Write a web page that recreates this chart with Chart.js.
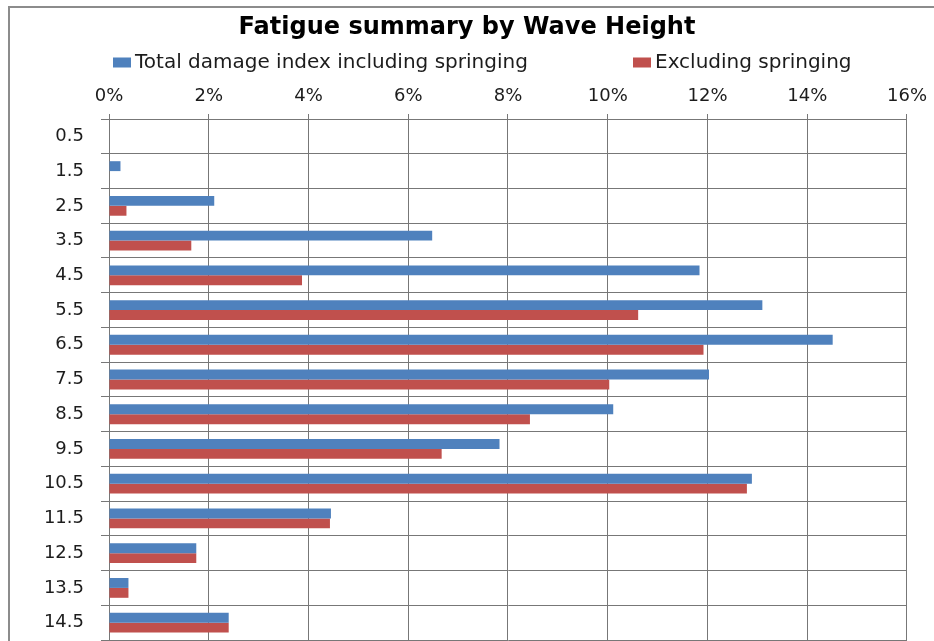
<!DOCTYPE html>
<html>
<head>
<meta charset="utf-8">
<script src="https://cdn.jsdelivr.net/npm/chart.js@4/dist/chart.umd.min.js"></script>
<style>
  html, body { margin: 0; padding: 0; background: #fff; overflow: hidden; }
  #wrap { position: relative; width: 934px; height: 641px; }
</style>
</head>
<body>
<div id="wrap"><canvas id="c" width="934" height="641"></canvas></div>
<script>
// Wave height bins (m)
const waveHeights = ['0.5', '1.5', '2.5', '3.5', '4.5', '5.5', '6.5', '7.5', '8.5', '9.5', '10.5', '11.5', '12.5', '13.5', '14.5'];
// Share of fatigue damage per bin, in percent
const totalWithSpringing = [0, 0.23, 2.11, 6.48, 11.84, 13.10, 14.51, 12.03, 10.11, 7.83, 12.89, 4.45, 1.75, 0.39, 2.40];
const excludingSpringing = [0, 0, 0.35, 1.65, 3.87, 10.61, 11.92, 10.03, 8.44, 6.67, 12.79, 4.43, 1.75, 0.39, 2.40];
// Axis range (percent)
const axisMin = 0;
const axisMax = 16;
const axisStep = 2;

const seriesNames = ['Total damage index including springing', 'Excluding springing'];
const seriesColors = ['#4F81BD', '#C0504D'];

const FONT = '"DejaVu Sans", "Open Sans", sans-serif';
const GRID = '#777777';
const TEXT = '#1c1c1c';

// Frame around the whole chart
const framePlugin = {
  id: 'frame',
  beforeDraw(chart) {
    const ctx = chart.ctx;
    ctx.save();
    ctx.fillStyle = '#fff';
    ctx.fillRect(0, 0, chart.width, chart.height);
    ctx.strokeStyle = '#8c8c8c';
    ctx.lineWidth = 2;
    ctx.strokeRect(9, 7, chart.width + 20, chart.height + 20);
    ctx.restore();
  }
};

// Legend laid out as two spread entries under the title
const spreadLegend = {
  id: 'spreadLegend',
  afterDraw(chart, args, opts) {
    const ctx = chart.ctx;
    ctx.save();
    ctx.font = opts.font;
    ctx.textBaseline = 'middle';
    chart.data.datasets.forEach((ds, i) => {
      const x = opts.x[i];
      ctx.fillStyle = ds.backgroundColor;
      ctx.fillRect(x, opts.y - opts.boxH / 2, opts.boxW, opts.boxH);
      ctx.fillStyle = opts.color;
      ctx.fillText(ds.label, x + opts.boxW + opts.gap, opts.y);
    });
    ctx.restore();
  }
};

new Chart(document.getElementById('c'), {
  type: 'bar',
  data: {
    labels: waveHeights,
    datasets: [
      { label: seriesNames[0], data: totalWithSpringing, backgroundColor: seriesColors[0] },
      { label: seriesNames[1], data: excludingSpringing, backgroundColor: seriesColors[1] }
    ]
  },
  options: {
    indexAxis: 'y',
    responsive: false,
    animation: false,
    layout: { padding: { left: 0, right: 0, top: 0, bottom: 1 } },
    datasets: { bar: { categoryPercentage: 0.57, barPercentage: 1.0 } },
    scales: {
      x: {
        position: 'top',
        min: axisMin,
        max: axisMax,
        ticks: {
          stepSize: axisStep,
          callback: v => v + '%',
          font: { family: FONT, size: 18 },
          color: TEXT,
          padding: 7,
          maxRotation: 0
        },
        grid: { color: GRID, lineWidth: 1, tickLength: 5, drawTicks: true },
        border: { display: true, color: GRID, width: 1 },
        afterFit: s => { s.height = 40; }
      },
      y: {
        offset: true,
        ticks: {
          font: { family: FONT, size: 18 },
          color: TEXT,
          padding: 17
        },
        grid: { color: GRID, lineWidth: 1, tickLength: 8, offset: true },
        border: { display: true, color: GRID, width: 1 },
        afterFit: s => { s.width = 109; s.paddingTop = 0; s.paddingBottom = 0; }
      },
      // empty margin on the right of the plot
      yMargin: {
        type: 'category',
        position: 'right',
        labels: waveHeights,
        ticks: { display: false },
        grid: { display: false, drawTicks: false },
        border: { display: false },
        afterFit: s => { s.width = 24; s.paddingTop = 0; s.paddingBottom = 0; }
      }
    },
    plugins: {
      title: {
        display: true,
        text: 'Fatigue summary by Wave Height',
        font: { family: FONT, size: 24, weight: 'bold' },
        color: '#000',
        padding: { top: 13.6, bottom: 36.6 }
      },
      legend: { display: false },
      tooltip: { enabled: false },
      spreadLegend: {
        x: [113, 633],
        y: 62.5,
        boxW: 18,
        boxH: 10,
        gap: 4,
        font: '20px ' + FONT,
        color: TEXT
      }
    }
  },
  plugins: [framePlugin, spreadLegend]
});
</script>
</body>
</html>
